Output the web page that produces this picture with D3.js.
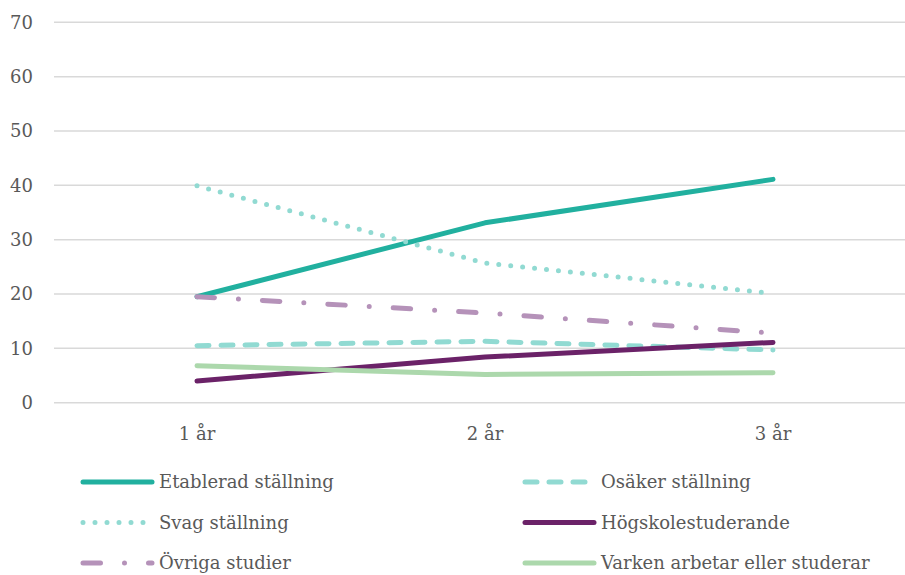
<!DOCTYPE html>
<html>
<head>
<meta charset="utf-8">
<script src="https://cdn.jsdelivr.net/npm/d3@7"></script>
<style>
body { margin: 0; background: #fff; }
</style>
</head>
<body>
<div id="chart-area"></div>
<script>
var w = 905;
var h = 575;

// data
var years = ["1 år", "2 år", "3 år"];
var yTicks = [0, 10, 20, 30, 40, 50, 60, 70];
var etablerad = [19.5, 33.1, 41.1];
var osaker = [10.5, 11.3, 9.7];
var svag = [39.9, 25.7, 20.1];
var hogskole = [4.0, 8.4, 11.1];
var ovriga = [19.5, 16.5, 12.8];
var varken = [6.8, 5.2, 5.5];

var series = [
  {name: "Etablerad ställning", values: etablerad, color: "#21b09f", dash: null},
  {name: "Osäker ställning", values: osaker, color: "#91dad2", dash: "12,12"},
  {name: "Svag ställning", values: svag, color: "#91dad2", dash: "0,12"},
  {name: "Högskolestuderande", values: hogskole, color: "#6b2268", dash: null},
  {name: "Övriga studier", values: ovriga, color: "#b592b9", dash: "17.5,24,0,24"},
  {name: "Varken arbetar eller studerar", values: varken, color: "#acd8ac", dash: null}
];

var font = "'DejaVu Serif', 'Liberation Serif', serif";
var fs = 18;

var svg = d3.select('#chart-area').append('svg')
    .attr('width', w)
    .attr('height', h)
    .attr('font-family', font);

var x = d3.scalePoint()
    .domain(years)
    .range([197, 773]);

var y = d3.scaleLinear()
    .domain([0, 70])
    .range([402.7, 22.3]);

// gridlines
svg.append('g').selectAll('line')
    .data(yTicks)
    .enter()
    .append('line')
    .attr('x1', 54)
    .attr('x2', w)
    .attr('y1', d => y(d))
    .attr('y2', d => y(d))
    .attr('stroke', '#d9d9d9')
    .attr('stroke-width', 1.5);

// y labels
svg.append('g').selectAll('text')
    .data(yTicks)
    .enter()
    .append('text')
    .attr('x', 33)
    .attr('y', d => y(d))
    .attr('dy', '0.35em')
    .attr('text-anchor', 'end')
    .attr('fill', '#595959')
    .attr('font-size', fs)
    .text(d => d);

// x labels
svg.append('g').selectAll('text')
    .data(years)
    .enter()
    .append('text')
    .attr('x', d => x(d))
    .attr('y', 440)
    .attr('text-anchor', 'middle')
    .attr('fill', '#595959')
    .attr('font-size', fs)
    .text(d => d);

var line = d3.line()
    .x((d, i) => x(years[i]))
    .y(d => y(d));

svg.append('g').selectAll('path')
    .data(series)
    .enter()
    .append('path')
    .attr('d', d => line(d.values))
    .attr('fill', 'none')
    .attr('stroke', d => d.color)
    .attr('stroke-width', 5)
    .attr('stroke-linecap', 'round')
    .attr('stroke-linejoin', 'round')
    .attr('stroke-dasharray', d => d.dash);

// legend, two columns
var legend = svg.append('g');
var legItem = legend.selectAll('g')
    .data(series)
    .enter()
    .append('g')
    .attr('transform', (d, i) => 'translate(' + (i % 2 == 0 ? 83 : 525) + ',' + (482 + Math.floor(i / 2) * 40.5) + ')');

legItem.append('line')
    .attr('x1', 0)
    .attr('x2', 69)
    .attr('y1', 0)
    .attr('y2', 0)
    .attr('stroke', d => d.color)
    .attr('stroke-width', 5)
    .attr('stroke-linecap', 'round')
    .attr('stroke-dasharray', d => d.dash);

legItem.append('text')
    .attr('x', 76)
    .attr('y', 0)
    .attr('dy', '0.35em')
    .attr('fill', '#595959')
    .attr('font-size', fs)
    .text(d => d.name);
</script>
</body>
</html>
